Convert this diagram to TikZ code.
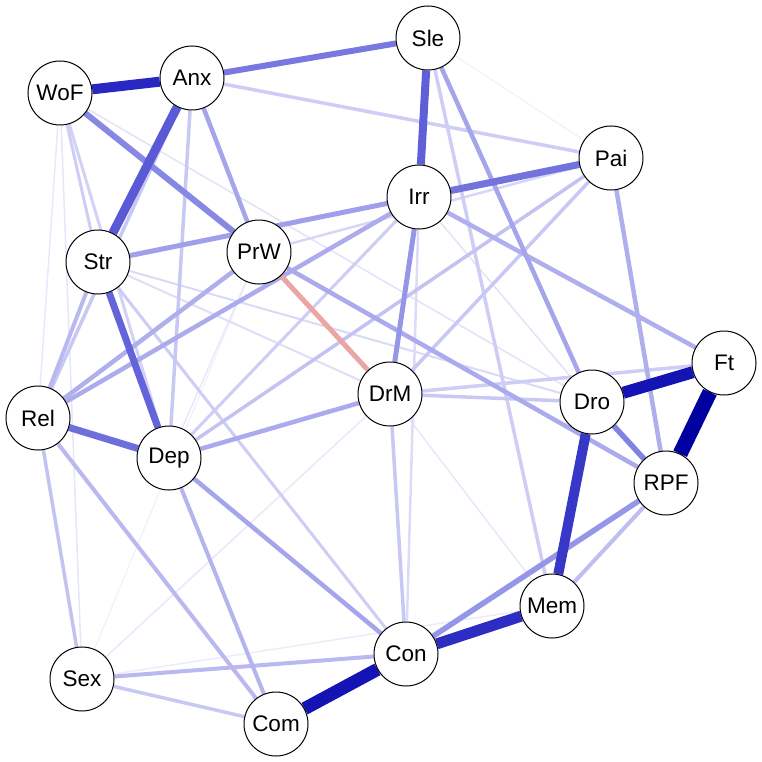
\documentclass[tikz,border=0pt]{standalone}
\usepackage{fontspec}
\setmainfont{Liberation Sans}
\usetikzlibrary{backgrounds}
\tikzset{
  vnode/.style={circle, draw=black, line width=1pt, fill=white, minimum size=64pt, inner sep=0pt, font=\fontsize{22.5}{26}\selectfont},
  edge/.style n args={3}{line width=#1, draw={rgb,255:red,#2;green,#2;blue,#3}},
  negedge/.style={line width=5pt, draw={rgb,255:red,236;green,165;blue,165}}
}
\begin{document}
\begin{tikzpicture}[x=1pt,y=-1pt]
\useasboundingbox (0,0) rectangle (762,762);
\node[vnode] (WoF) at (60,93) {WoF};
\node[vnode] (Anx) at (192,78) {Anx};
\node[vnode] (Sle) at (428,38) {Sle};
\node[vnode] (Pai) at (611,158) {Pai};
\node[vnode] (Irr) at (419,197) {Irr};
\node[vnode] (Str) at (98,262) {Str};
\node[vnode] (PrW) at (259,252) {PrW};
\node[vnode] (DrM) at (390,394) {DrM};
\node[vnode] (Rel) at (38,418) {Rel};
\node[vnode] (Dep) at (169,458) {Dep};
\node[vnode] (Dro) at (592,402) {Dro};
\node[vnode] (Ft) at (724,363) {Ft};
\node[vnode] (RPF) at (666,483) {RPF};
\node[vnode] (Mem) at (552,606) {Mem};
\node[vnode] (Con) at (406,654) {Con};
\node[vnode] (Sex) at (82,679) {Sex};
\node[vnode] (Com) at (276,724) {Com};
\begin{pgfonlayer}{background}
\foreach \a/\b/\w/\c/\d in {
  Sle/Pai/1/238/252, Sex/PrW/1/238/252, Sex/Mem/1.5/236/251,
  DrM/Mem/1.5/232/250, Dep/PrW/1.5/232/250, Sex/DrM/1.5/232/250,
  WoF/Sex/1.5/230/250, WoF/Rel/1.5/232/250, WoF/Dro/1.5/226/249,
  Irr/Dro/1.5/226/249, Str/DrM/2/222/248, Str/Dro/2/218/247,
  Irr/Con/2.5/220/248, PrW/Pai/2.5/214/247, WoF/Dep/3/210/246,
  WoF/Str/3/205/245, Str/Con/3/205/245, Irr/Dep/3/205/245,
  Sle/Mem/3.5/205/245, Anx/Pai/3.5/205/245, Anx/Dep/3.5/200/244,
  DrM/Ft/3.5/205/245, DrM/Dro/3.5/200/244, DrM/Con/3.5/200/244,
  Pai/DrM/3.5/200/244, Pai/Dep/3.5/195/242, Sex/Com/3.5/200/244,
  Rel/Sex/3.5/195/242, Anx/Rel/3.5/200/244, Str/Rel/4/185/240,
  Mem/RPF/4/190/240, Sex/Con/4/185/240, Rel/Com/4/185/240,
  Dep/Com/4/180/238, PrW/Rel/4.5/175/238, Irr/Rel/4.5/172/237,
  Dep/Con/4.5/165/235, Dep/DrM/4.5/170/236, PrW/RPF/4.5/170/236,
  Pai/RPF/4.5/175/238, Irr/Ft/4.5/175/238, Anx/PrW/4.5/165/235,
  Str/Irr/5/160/234, Sle/Dro/4.5/165/235, Irr/DrM/5/150/232,
  Con/RPF/5.5/150/232, Dro/RPF/5.5/130/226, WoF/PrW/6/135/228,
  Anx/Sle/6/120/224, Irr/Pai/7/115/222, Rel/Dep/7/110/220,
  Str/Dep/7/100/218, Sle/Irr/8/95/215, Anx/Str/9/90/215,
  Mem/Dro/10/55/200, WoF/Anx/10/40/195, Con/Mem/11/45/195,
  Dro/Ft/12/20/180, Com/Con/13/20/180, Ft/RPF/15/0/160}
{\draw[edge={\w pt}{\c}{\d}] (\a) -- (\b);}
\draw[negedge] (PrW) -- (DrM);
\end{pgfonlayer}
\end{tikzpicture}
\end{document}
